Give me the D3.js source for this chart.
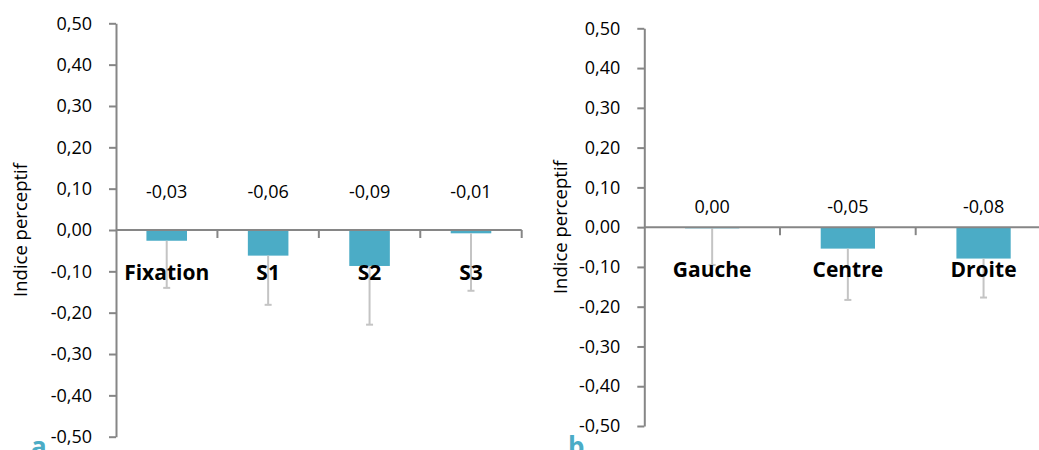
<!DOCTYPE html>
<html><head><meta charset="utf-8">
<script src="https://cdn.jsdelivr.net/npm/d3@7"></script>
<style>
html,body{margin:0;padding:0;background:#fff;}
svg{display:block;font-family:"Open Sans",sans-serif;}
</style></head>
<body>
<svg id="c" width="1039" height="450"></svg>
<script>
// Panel a
const categoriesA = ["Fixation", "S1", "S2", "S3"];
const valuesA = [-0.026, -0.062, -0.087, -0.008];
const errLowA = [-0.140, -0.181, -0.229, -0.147];
// Panel b
const categoriesB = ["Gauche", "Centre", "Droite"];
const valuesB = [-0.003, -0.054, -0.079];
const errLowB = [-0.095, -0.183, -0.177];
const yTicks = [-0.5, -0.4, -0.3, -0.2, -0.1, 0, 0.1, 0.2, 0.3, 0.4, 0.5];
const yTitle = "Indice perceptif";
const panelLetters = ["a", "b"];

const loc = d3.formatLocale({decimal: ",", thousands: " ", grouping: [3], currency: ["", "€"], minus: "-"});
const fmt = v => { let s = loc.format(".2f")(v); return s === "-0,00" ? "0,00" : s; };

const svg = d3.select("#c");
const BAR = "#4bacc6", AXIS = "#868686", ERR = "#c4c4c4";

function panel(cfg) {
  const g = svg.append("g");
  const y = d3.scaleLinear().domain([-0.5, 0.5]).range([cfg.yBottom, cfg.yTop]);
  const x = d3.scaleBand().domain(cfg.cats).range([cfg.x0, cfg.x1]).padding(0);
  const bw = x.bandwidth() * 0.4;

  // y axis
  const ya = g.append("g").attr("transform", `translate(${cfg.x0},0)`)
    .call(d3.axisLeft(y).tickValues(yTicks).tickFormat(fmt).tickSize(7).tickPadding(17).tickSizeOuter(0));
  ya.select(".domain").attr("stroke", AXIS).attr("stroke-width", 2);
  ya.selectAll(".tick line").attr("stroke", AXIS).attr("stroke-width", 2);
  ya.selectAll(".tick text").attr("font-size", 18).attr("fill", "#000").attr("font-family", "Open Sans");

  // bars
  g.selectAll("rect.bar").data(cfg.vals).join("rect")
    .attr("x", (d, i) => x(cfg.cats[i]) + (x.bandwidth() - bw) / 2)
    .attr("y", d => y(Math.max(0, d)))
    .attr("width", bw)
    .attr("height", d => Math.abs(y(d) - y(0)))
    .attr("fill", BAR);

  // error bars (lower)
  cfg.errs.forEach((e, i) => {
    const cx = x(cfg.cats[i]) + x.bandwidth() / 2;
    g.append("line").attr("x1", cx).attr("x2", cx).attr("y1", y(cfg.vals[i])).attr("y2", y(e))
      .attr("stroke", ERR).attr("stroke-width", 2);
    g.append("line").attr("x1", cx - 3.5).attr("x2", cx + 3.5).attr("y1", y(e)).attr("y2", y(e))
      .attr("stroke", ERR).attr("stroke-width", 2);
  });

  // x axis line at 0
  g.append("line").attr("x1", x.range()[0]).attr("x2", x.range()[1])
    .attr("y1", y(0)).attr("y2", y(0)).attr("stroke", AXIS).attr("stroke-width", 2);
  cfg.cats.forEach((c, i) => {
    if (i === 0) return;
    const bx = x(c);
    g.append("line").attr("x1", bx).attr("x2", bx).attr("y1", y(0)).attr("y2", y(0) + 8)
      .attr("stroke", AXIS).attr("stroke-width", 2);
  });
  g.append("line").attr("x1", cfg.x1).attr("x2", cfg.x1).attr("y1", y(0)).attr("y2", y(0) + 8)
    .attr("stroke", AXIS).attr("stroke-width", 2);

  // category labels
  g.selectAll("text.cat").data(cfg.cats).join("text")
    .attr("x", d => x(d) + x.bandwidth() / 2)
    .attr("y", cfg.catY)
    .attr("text-anchor", "middle")
    .attr("font-size", 21).attr("font-weight", "bold").attr("fill", "#000")
    .text(d => d);

  // data labels
  g.selectAll("text.val").data(cfg.vals).join("text")
    .attr("x", (d, i) => x(cfg.cats[i]) + x.bandwidth() / 2)
    .attr("y", cfg.valY)
    .attr("text-anchor", "middle")
    .attr("font-size", 18).attr("fill", "#000")
    .text(d => fmt(d));

  // y title
  g.append("text")
    .attr("transform", `translate(${cfg.titleX},${y(0)}) rotate(-90)`)
    .attr("text-anchor", "middle").attr("dy", "0.35em")
    .attr("font-size", 18.5).attr("fill", "#000")
    .text(yTitle);

  // panel letter
  g.append("text").attr("x", cfg.letterX).attr("y", cfg.letterY)
    .attr("font-size", 26).attr("font-weight", "bold").attr("fill", BAR)
    .text(cfg.letter);
}

panel({cats: categoriesA, vals: valuesA, errs: errLowA, x0: 116, x1: 521.7, yTop: 23.3, yBottom: 436.7,
       catY: 280, valY: 198, titleX: 21, letter: panelLetters[0], letterX: 31, letterY: 456});
panel({cats: categoriesB, vals: valuesB, errs: errLowB, x0: 644.3, x1: 1051.4, yTop: 28.3, yBottom: 426,
       catY: 277, valY: 213, titleX: 561, letter: panelLetters[1], letterX: 568, letterY: 456});
</script>
</body></html>
